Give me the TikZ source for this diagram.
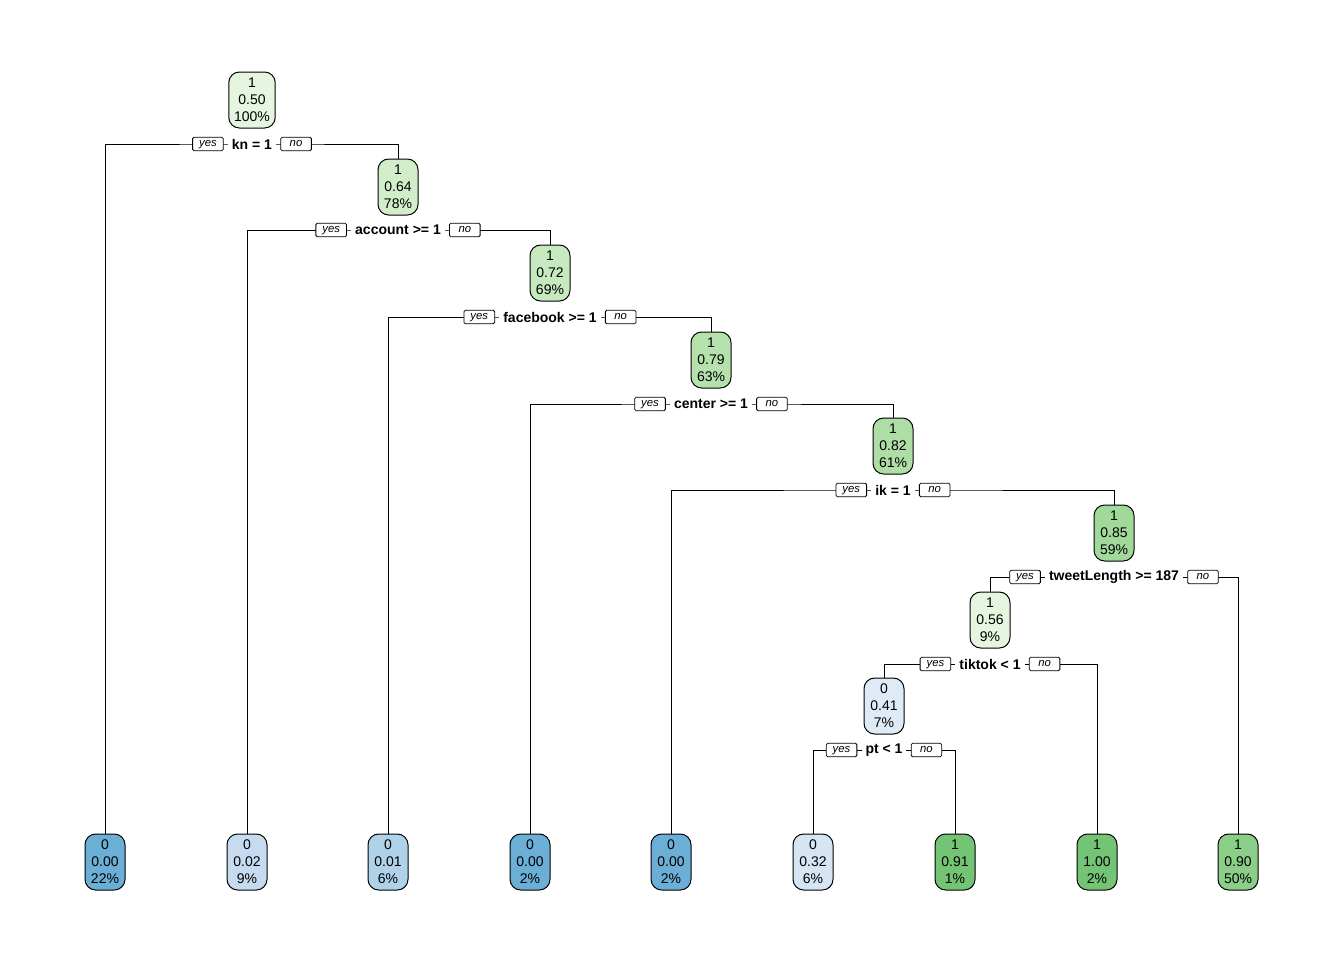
\documentclass[tikz,border=0pt]{standalone}
\usepackage{fontspec}
\setmainfont{Liberation Sans}
\definecolor{g50}{HTML}{E5F5E0}
\definecolor{g64}{HTML}{D2EDCA}
\definecolor{g72}{HTML}{C7E9C0}
\definecolor{g79}{HTML}{B5E1AD}
\definecolor{g82}{HTML}{AEDDA6}
\definecolor{g85}{HTML}{A1D99B}
\definecolor{g90}{HTML}{8ACE88}
\definecolor{g100}{HTML}{74C476}
\definecolor{b00}{HTML}{6BAED6}
\definecolor{b01}{HTML}{B0D2E8}
\definecolor{b02}{HTML}{C6DBEF}
\definecolor{b32}{HTML}{D6E5F4}
\definecolor{b41}{HTML}{DEEBF7}
\begin{document}
\begin{tikzpicture}[x=0.75pt,y=-0.75pt,
  box/.style={draw=black, line width=0.75pt, rounded corners=8pt, minimum width=30pt,
    minimum height=42pt, inner xsep=4pt, inner ysep=0pt, align=center,
    font=\fontsize{10.5}{12.75}\selectfont},
  split/.style={fill=white, inner xsep=3pt, inner ysep=1pt,
    font=\fontsize{10.5}{12}\selectfont\bfseries},
  yn/.style={draw=black, fill=white, line width=0.6pt, rounded corners=1pt,
    minimum width=23pt, text height=6pt, text depth=1.8pt, inner ysep=1.1pt, inner xsep=0.5pt,
    font=\fontsize{8.5}{9}\selectfont\itshape},
  edge/.style={draw=black, line width=0.75pt}]
\useasboundingbox (0,0) rectangle (1344,960);

% internal nodes
\node[box, fill=g50] (R) at (252,100) {1\\0.50\\100\%};
\node[box, fill=g64] (n2) at (398,187) {1\\0.64\\78\%};
\node[box, fill=g72] (n3) at (550,273) {1\\0.72\\69\%};
\node[box, fill=g79] (n4) at (711,360) {1\\0.79\\63\%};
\node[box, fill=g82] (n5) at (893,446) {1\\0.82\\61\%};
\node[box, fill=g85] (n6) at (1114,533) {1\\0.85\\59\%};
\node[box, fill=g50] (n7) at (990,620) {1\\0.56\\9\%};
\node[box, fill=b41] (n8) at (884,706) {0\\0.41\\7\%};

% leaves
\node[box, fill=b00] (A) at (105,862) {0\\0.00\\22\%};
\node[box, fill=b02] (B) at (247,862) {0\\0.02\\9\%};
\node[box, fill=b01] (C) at (388,862) {0\\0.01\\6\%};
\node[box, fill=b00] (D) at (530,862) {0\\0.00\\2\%};
\node[box, fill=b00] (E) at (671,862) {0\\0.00\\2\%};
\node[box, fill=b32] (F) at (813,862) {0\\0.32\\6\%};
\node[box, fill=g100] (G) at (955,862) {1\\0.91\\1\%};
\node[box, fill=g100] (H) at (1097,862) {1\\1.00\\2\%};
\node[box, fill=g90] (I) at (1238,862) {1\\0.90\\50\%};

% split points
\coordinate (s1) at (252,144);
\coordinate (s2) at (398,230);
\coordinate (s3) at (550,317);
\coordinate (s4) at (711,404);
\coordinate (s5) at (893,490);
\coordinate (s6) at (1114,577);
\coordinate (s7) at (990,664);
\coordinate (s8) at (884,750);

% connectors
\draw[edge] (A.north) |- (s1) -| (n2.north);
\draw[edge] (B.north) |- (s2) -| (n3.north);
\draw[edge] (C.north) |- (s3) -| (n4.north);
\draw[edge] (D.north) |- (s4) -| (n5.north);
\draw[edge] (E.north) |- (s5) -| (n6.north);
\draw[edge] (n7.north) |- (s6) -| (I.north);
\draw[edge] (n8.north) |- (s7) -| (H.north);
\draw[edge] (F.north) |- (s8) -| (G.north);

% split labels
\foreach \s/\t in {s1/{kn = 1}, s2/{account >= 1}, s3/{facebook >= 1}, s4/{center >= 1},
                   s5/{ik = 1}, s6/{tweetLength >= 187}, s7/{tiktok < 1}, s8/{pt < 1}} {
  \node[split] (l\s) at (\s) {\t};
  \node[yn, anchor=east] (y\s) at ([xshift=-3pt]l\s.west) {yes};
  \node[yn, anchor=west] (n\s) at ([xshift=3pt]l\s.east) {no};
}
\end{tikzpicture}
\end{document}
